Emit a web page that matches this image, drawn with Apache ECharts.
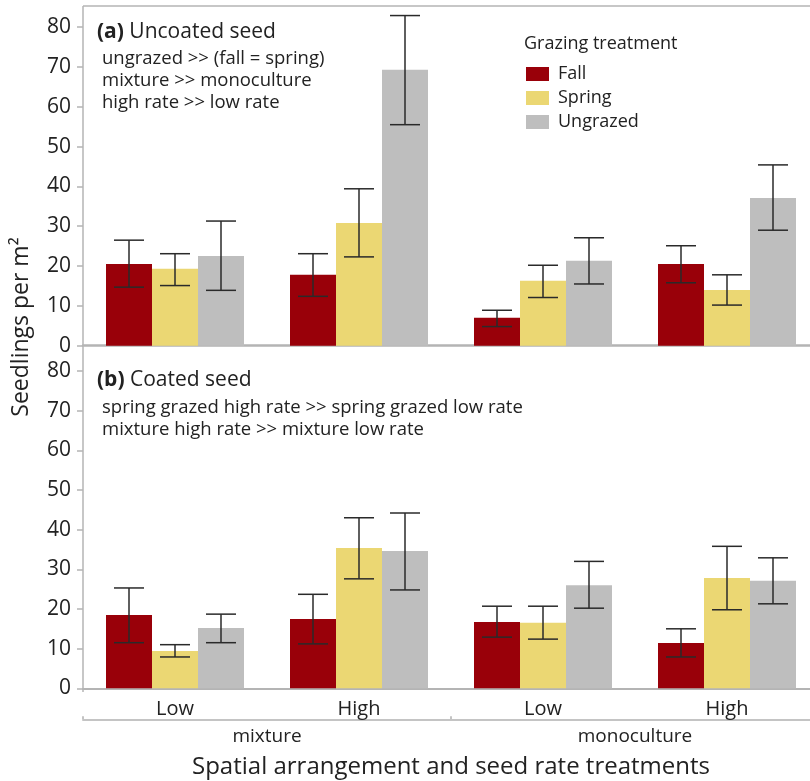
<!DOCTYPE html>
<html><head><meta charset="utf-8">
<script src="https://cdn.jsdelivr.net/npm/echarts@6/dist/echarts.min.js"></script>
<style>html,body{margin:0;padding:0;background:#fff}#c{width:810px;height:781px}</style>
</head><body><div id="c"></div>
<script>
const categories = ['Low', 'High', 'Low', 'High'];
const arrangements = ['mixture', 'monoculture'];
const treatments = ['Fall', 'Spring', 'Ungrazed'];
const yTicks = [0, 10, 20, 30, 40, 50, 60, 70, 80];

// (a) Uncoated seed: means and error-bar limits
const uncoatedFall = [20.5, 17.8, 7.0, 20.5];
const uncoatedFallLow = [14.7, 12.4, 4.8, 15.8];
const uncoatedFallHigh = [26.5, 23.1, 8.9, 25.1];
const uncoatedSpring = [19.3, 30.8, 16.3, 14.0];
const uncoatedSpringLow = [15.1, 22.3, 12.1, 10.2];
const uncoatedSpringHigh = [23.1, 39.4, 20.2, 17.8];
const uncoatedUngrazed = [22.5, 69.3, 21.3, 37.1];
const uncoatedUngrazedLow = [13.9, 55.5, 15.5, 29.0];
const uncoatedUngrazedHigh = [31.3, 82.9, 27.1, 45.4];

// (b) Coated seed
const coatedFall = [18.5, 17.5, 16.7, 11.4];
const coatedFallLow = [11.5, 11.2, 12.9, 7.9];
const coatedFallHigh = [25.3, 23.7, 20.7, 15.0];
const coatedSpring = [9.4, 35.4, 16.5, 27.8];
const coatedSpringLow = [7.9, 27.6, 12.4, 19.8];
const coatedSpringHigh = [11.0, 43.0, 20.7, 35.8];
const coatedUngrazed = [15.2, 34.6, 26.0, 27.1];
const coatedUngrazedLow = [11.5, 24.8, 20.2, 21.3];
const coatedUngrazedHigh = [18.7, 44.2, 32.0, 32.9];

const colors = ['#990009', '#ebd773', '#bebebe'];
const FONT = 'Open Sans';
const TXT = '#222';
const AXC = '#b4b4b4';

const panels = [
  {means: [uncoatedFall, uncoatedSpring, uncoatedUngrazed],
   lows: [uncoatedFallLow, uncoatedSpringLow, uncoatedUngrazedLow],
   highs: [uncoatedFallHigh, uncoatedSpringHigh, uncoatedUngrazedHigh]},
  {means: [coatedFall, coatedSpring, coatedUngrazed],
   lows: [coatedFallLow, coatedSpringLow, coatedUngrazedLow],
   highs: [coatedFallHigh, coatedSpringHigh, coatedUngrazedHigh]}
];

const series = [];
panels.forEach((p, g) => {
  treatments.forEach((t, j) => {
    series.push({
      type: 'bar', name: t, xAxisIndex: g, yAxisIndex: g,
      data: p.means[j], barWidth: '25%', barGap: '0%',
      itemStyle: {color: colors[j]}, silent: true
    });
  });
  treatments.forEach((t, j) => {
    series.push({
      type: 'custom', xAxisIndex: g, yAxisIndex: g, silent: true, z: 5,
      data: p.lows[j].map((lo, i) => [i, lo, p.highs[j][i]]),
      renderItem: (params, api) => {
        const i = api.value(0);
        const band = api.size([1, 0])[0];
        const off = (j - 1) * band * 0.25;
        const a = api.coord([i, api.value(1)]);
        const b = api.coord([i, api.value(2)]);
        const x = a[0] + off, cap = 15;
        const st = {stroke: '#2a2a2a', lineWidth: 1.5};
        return {type: 'group', children: [
          {type: 'line', shape: {x1: x, y1: a[1], x2: x, y2: b[1]}, style: st},
          {type: 'line', shape: {x1: x - cap, y1: a[1], x2: x + cap, y2: a[1]}, style: st},
          {type: 'line', shape: {x1: x - cap, y1: b[1], x2: x + cap, y2: b[1]}, style: st}
        ]};
      }
    });
  });
});

const yAxisBase = (g) => ({
  type: 'value', gridIndex: g, min: 0, max: 85.3,
  axisLine: {show: false},
  axisTick: {show: true, customValues: yTicks, length: 6, lineStyle: {color: AXC, width: 1.5}},
  axisLabel: {customValues: yTicks, fontSize: 21, color: TXT, fontFamily: FONT, margin: 12},
  splitLine: {show: false}
});

const option = {
  animation: false,
  backgroundColor: '#fff',
  grid: [
    {left: 83, width: 736, top: 6, height: 339.7, outerBoundsMode: 'none', containLabel: false},
    {left: 83, width: 736, top: 350, height: 338.3, outerBoundsMode: 'none', containLabel: false}
  ],
  xAxis: [
    {type: 'category', gridIndex: 0, data: categories, offset: 3,
     axisLine: {lineStyle: {color: AXC, width: 2.5}}, axisTick: {show: false}, axisLabel: {show: false}},
    {type: 'category', gridIndex: 1, data: categories, offset: 3,
     axisLine: {lineStyle: {color: AXC, width: 2}}, axisTick: {show: false},
     axisLabel: {fontSize: 20, color: TXT, fontFamily: FONT, margin: 8}},
    {type: 'category', gridIndex: 1, data: arrangements, offset: 31, position: 'bottom',
     axisLine: {lineStyle: {color: '#c4c4c4', width: 2}},
     axisTick: {show: true, inside: true, length: 3, lineStyle: {color: '#c4c4c4', width: 2}},
     axisLabel: {fontSize: 19, color: TXT, fontFamily: FONT, margin: 8},
     name: 'Spatial arrangement and seed rate treatments', nameLocation: 'middle', nameGap: 36,
     nameTextStyle: {fontSize: 24, color: TXT, fontFamily: FONT}}
  ],
  yAxis: [yAxisBase(0), yAxisBase(1)],
  legend: {
    data: treatments, orient: 'vertical', left: 526, top: 65, padding: 0,
    itemWidth: 23, itemHeight: 14, itemGap: 6, icon: 'rect',
    textStyle: {fontSize: 18, color: TXT, fontFamily: FONT, padding: [0, 0, 0, 4]}
  },
  graphic: [
    {type: 'line', shape: {x1: 83, y1: 6, x2: 83, y2: 692}, style: {stroke: AXC, lineWidth: 1.5}, z: 10},
    {type: 'line', shape: {x1: 83, y1: 6, x2: 810, y2: 6}, style: {stroke: AXC, lineWidth: 1.5}, z: 10},
    {type: 'text', left: 97, top: 22, style: {
      text: '{b|(a)} Uncoated seed', fontSize: 21, fill: TXT, fontFamily: FONT,
      rich: {b: {fontWeight: 'bold', fontSize: 21, fill: TXT, fontFamily: FONT}}}},
    {type: 'text', left: 102, top: 48, style: {
      text: 'ungrazed >> (fall = spring)\nmixture >> monoculture\nhigh rate >> low rate',
      fontSize: 18.5, lineHeight: 22, fill: TXT, fontFamily: FONT}},
    {type: 'text', left: 97, top: 370, style: {
      text: '{b|(b)} Coated seed', fontSize: 21, fill: TXT, fontFamily: FONT,
      rich: {b: {fontWeight: 'bold', fontSize: 21, fill: TXT, fontFamily: FONT}}}},
    {type: 'text', left: 102, top: 397, style: {
      text: 'spring grazed high rate >> spring grazed low rate\nmixture high rate >> mixture low rate',
      fontSize: 18.5, lineHeight: 22, fill: TXT, fontFamily: FONT}},
    {type: 'text', left: 524, top: 35, style: {
      text: 'Grazing treatment', fontSize: 18, fill: TXT, fontFamily: FONT}},
    {type: 'text', x: 21, y: 327, rotation: Math.PI / 2, style: {
      text: 'Seedlings per m²', fontSize: 23, fill: TXT, fontFamily: FONT,
      align: 'center', verticalAlign: 'middle'}}
  ],
  series: series
};

const chart = echarts.init(document.getElementById('c'), null, {renderer: 'canvas'});
chart.setOption(option);
</script>
</body></html>
